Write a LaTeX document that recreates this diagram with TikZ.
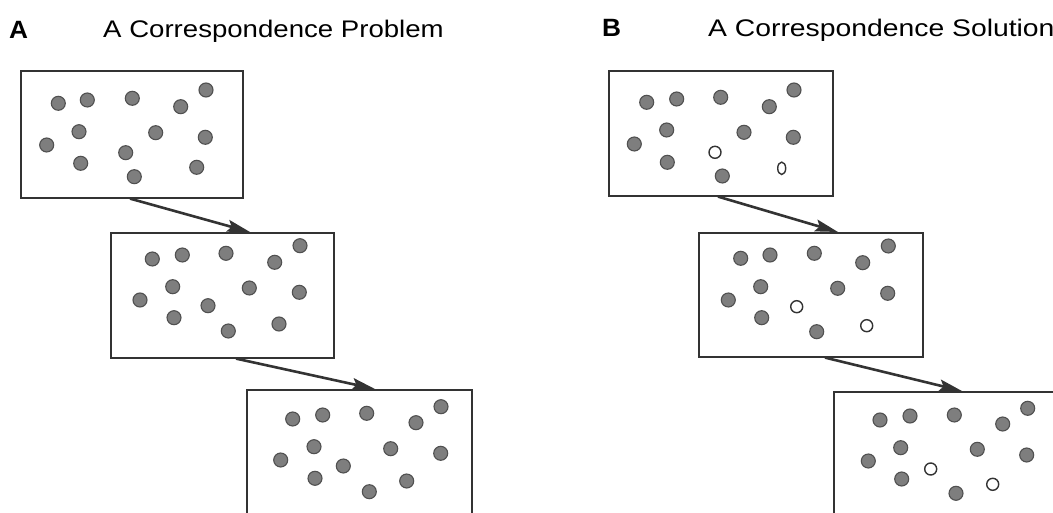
\documentclass[tikz,border=0pt]{standalone}
\usepackage{fontspec}
\setmainfont{Liberation Sans}
\usetikzlibrary{arrows.meta,calc}
\definecolor{ink}{HTML}{333333}
\definecolor{dotfill}{HTML}{7E7E7E}
\definecolor{dotedge}{HTML}{505050}
\tikzset{
  frame/.style={draw=ink, line width=1.6pt, fill=none, inner sep=0pt, anchor=north west},
  arr/.style={draw=ink, line width=2.6pt, -{Stealth[length=23pt,width=12pt,inset=4pt]}},
  fdot/.style={fill=dotfill, draw=dotedge, line width=1.1pt},
  hdot/.style={fill=white, draw=ink, line width=1.4pt},
  title/.style={anchor=base west, inner sep=0pt, font=\fontsize{24}{28}\selectfont},
  plabel/.style={anchor=base west, inner sep=0pt, font=\fontsize{25}{29}\selectfont\bfseries}
}
\begin{document}
\begin{tikzpicture}[x=1pt,y=-1pt]
\useasboundingbox (0,0) rectangle (1053,513);
% labels
\node[plabel] (la) at (9,38.5) {\scalebox{1.05}[1]{A}};
\node[title] (ta) at (103,37.5) {\scalebox{1.15}[1]{A Correspondence Problem}};
\node[plabel] (lb) at (602,36.5) {\scalebox{1.05}[1]{B}};
\node[title] (tb) at (708,36.7) {\scalebox{1.18}[1]{A Correspondence Solution}};
% boxes A
\node[frame, minimum width=222pt, minimum height=127pt] (a1) at (20,70) {};
\node[frame, minimum width=223pt, minimum height=125pt] (a2) at (110,232) {};
\node[frame, minimum width=225pt, minimum height=130pt] (a3) at (246,389) {};
% boxes B
\node[frame, minimum width=224pt, minimum height=125pt] (b1) at (608,70) {};
\node[frame, minimum width=224pt, minimum height=124pt] (b2) at (698,232) {};
\node[frame, minimum width=230pt, minimum height=130pt] (b3) at (833,391) {};
% arrows
\draw[arr] ($(a1.south west)+(110,0)$) -- ($(a2.north west)+(140,0)$);
\draw[arr] ($(a2.south west)+(126,0)$) -- ($(a3.north west)+(129,0)$);
\draw[arr] ($(b1.south west)+(110,0)$) -- ($(b2.north west)+(140,0)$);
\draw[arr] ($(b2.south west)+(127,0)$) -- ($(b3.north west)+(129,0)$);
% dots A1
\foreach \x/\y in {58.3/103.3, 87.3/100, 132.3/98.3, 180.7/106.7, 206/90, 79/131.7, 155.7/132.7, 46.7/145, 205.3/137.3, 125.7/152.7, 80.7/163.3, 196.7/167.3, 134.3/176.7}
  \draw[fdot] (\x,\y) circle (7pt);
% dots A2
\foreach \x/\y in {152.3/259, 182.3/255, 226/253.3, 274.7/262.3, 300/245.7, 172.7/286.7, 249.3/288, 140/300, 299.3/292.3, 208/305.7, 174/317.7, 279/324, 228.3/331}
  \draw[fdot] (\x,\y) circle (7pt);
% dots A3
\foreach \x/\y in {292.7/419, 322.7/415, 366.7/413.3, 416/422.7, 441/406.7, 314/446.7, 390.7/448.7, 280.7/460, 440.7/453.3, 343.3/466, 315/478.3, 406.7/481, 369.3/491.7}
  \draw[fdot] (\x,\y) circle (7pt);
% dots B1
\foreach \x/\y in {646.7/102.3, 676.7/99, 720.7/97.3, 769.3/106.7, 794/90, 666.7/130, 744/132.3, 634.3/144, 793.3/137.3, 667.3/162.3, 722.3/176}
  \draw[fdot] (\x,\y) circle (7pt);
\draw[hdot] (715,152.3) circle (6pt);
\draw[hdot] (781.7,168.3) ellipse (4pt and 6.2pt);
% dots B2
\foreach \x/\y in {740.7/258.3, 770/255, 814.3/253.3, 862.7/262.7, 888.3/246, 760.7/286.7, 837.7/288.3, 728.3/300, 887.7/293.3, 761.7/317.7, 816.7/331.7}
  \draw[fdot] (\x,\y) circle (7pt);
\draw[hdot] (796.7,306.7) circle (6pt);
\draw[hdot] (866.7,325.7) circle (6pt);
% dots B3
\foreach \x/\y in {880/420, 910/416, 954.3/415, 1002.7/424, 1027.7/408.3, 900.7/447.7, 977.3/449.3, 868.3/461, 1026.7/455, 901.7/479, 956/493.3}
  \draw[fdot] (\x,\y) circle (7pt);
\draw[hdot] (930.7,469) circle (6pt);
\draw[hdot] (992.7,484.3) circle (6pt);
\end{tikzpicture}
\end{document}
